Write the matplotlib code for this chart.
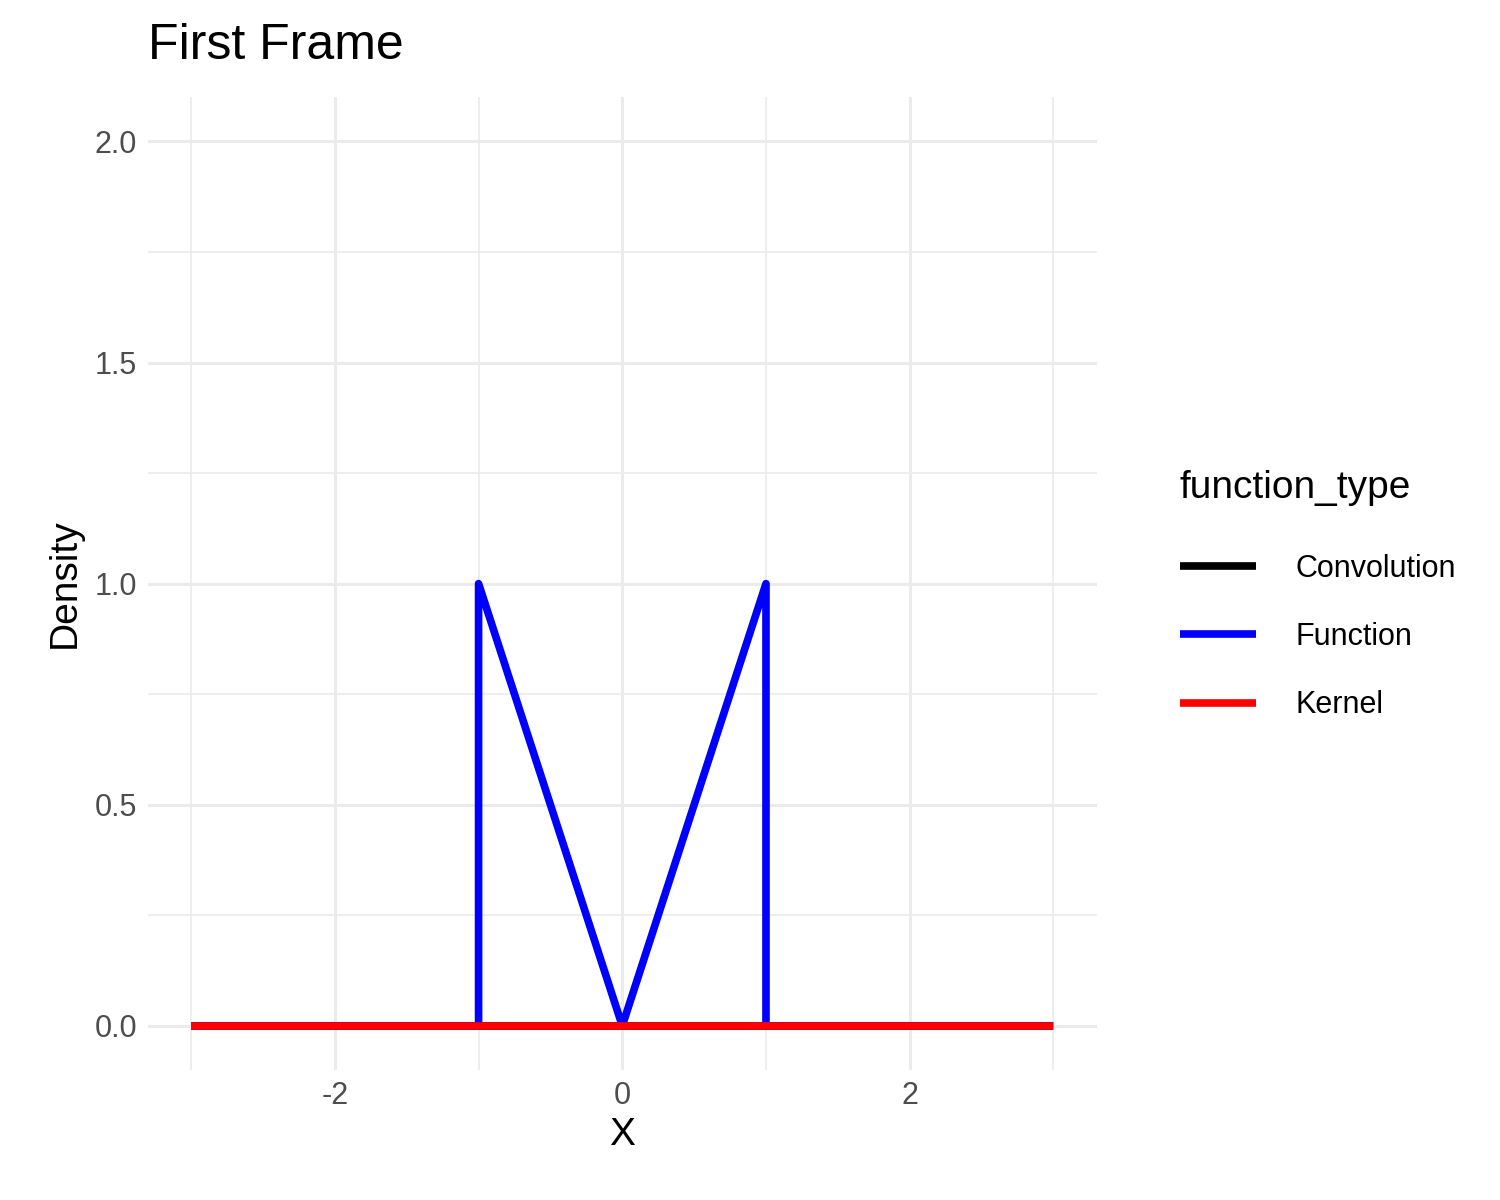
import numpy as np
import matplotlib.pyplot as plt

plt.rcParams['font.family'] = ['Liberation Sans', 'DejaVu Sans']
plt.rcParams['axes.unicode_minus'] = False

# data
x_func = [-3, -1, -1, 0, 1, 1, 3]
y_func = [0, 0, 1, 0, 1, 0, 0]
x_kern = [-3, 3]
y_kern = [0, 0]
x_conv = [-3, 3]
y_conv = [0, 0]
labels = ['Convolution', 'Function', 'Kernel']
colors = ['black', 'blue', 'red']

fig = plt.figure(figsize=(15, 12), dpi=100)
ax = fig.add_axes([0.0987, 0.1083, 0.6323, 0.8107])

l1, = ax.plot(x_conv, y_conv, color=colors[0], lw=5.5, solid_capstyle='butt')
l2, = ax.plot(x_func, y_func, color=colors[1], lw=5.5, solid_capstyle='butt', solid_joinstyle='round')
l3, = ax.plot(x_kern, y_kern, color=colors[2], lw=5.5, solid_capstyle='butt')

ax.set_xlim(-3.3, 3.3)
ax.set_ylim(-0.1, 2.1)
ax.set_xticks([-2, 0, 2])
ax.set_xticks([-3, -1, 1, 3], minor=True)
ax.set_yticks([0, 0.5, 1.0, 1.5, 2.0])
ax.set_yticklabels(['0.0', '0.5', '1.0', '1.5', '2.0'])
ax.set_yticks([0.25, 0.75, 1.25, 1.75], minor=True)
ax.grid(which='major', color='#EBEBEB', lw=2.2)
ax.grid(which='minor', color='#EBEBEB', lw=1.2)
ax.set_axisbelow(True)
for s in ax.spines.values():
    s.set_visible(False)
ax.tick_params(which='both', length=0, labelsize=22, labelcolor='#4D4D4D', pad=8)

ax.set_xlabel('X', fontsize=28, labelpad=4)
ax.set_ylabel('Density', fontsize=28, labelpad=8)
fig.text(0.0987, 0.962, 'First Frame', fontsize=36, va='center', ha='left')

leg = fig.legend([l1, l2, l3], labels, title='function_type', loc='center left',
                 bbox_to_anchor=(0.768, 0.5), frameon=False, fontsize=22,
                 title_fontsize=28, handlelength=2.5, handletextpad=1.3,
                 labelspacing=1.25)
leg._legend_box.align = 'left'
leg.get_title().set_position((0, 10))

fig.savefig('out.png')
